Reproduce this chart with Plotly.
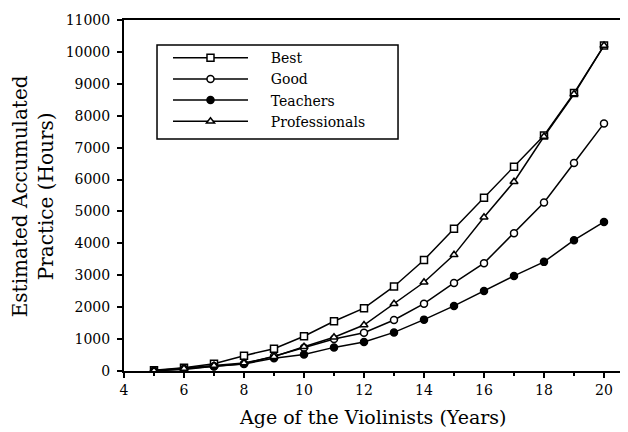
import plotly.graph_objects as go

ages = [5, 6, 7, 8, 9, 10, 11, 12, 13, 14, 15, 16, 17, 18, 19, 20]
best = [20, 100, 230, 480, 700, 1090, 1560, 1970, 2650, 3480, 4460, 5430, 6400, 7380, 8710, 10200]
good = [10, 50, 150, 230, 460, 730, 1000, 1200, 1600, 2110, 2760, 3380, 4320, 5280, 6520, 7760]
teachers = [0, 70, 140, 220, 400, 520, 740, 910, 1210, 1610, 2040, 2510, 2980, 3420, 4100, 4670]
professionals = [10, 80, 170, 250, 450, 760, 1060, 1440, 2110, 2780, 3640, 4820, 5930, 7350, 8680, 10200]

x_ticks = [4, 6, 8, 10, 12, 14, 16, 18, 20]
y_ticks = list(range(0, 11001, 1000))
y_ticktext = [str(v) for v in y_ticks]

series = [
    ("Best", best, "square", "white"),
    ("Good", good, "circle", "white"),
    ("Teachers", teachers, "circle", "black"),
    ("Professionals", professionals, "triangle-up", "white"),
]

NB = "\u00a0"
fig = go.Figure()
for name, vals, sym, fill in series:
    fig.add_trace(go.Scatter(
        x=ages, y=vals, name=NB * 4 + name, mode="lines+markers",
        line=dict(color="black", width=1.5),
        marker=dict(symbol=sym, size=7, color=fill, line=dict(color="black", width=1.5)),
    ))

font = "DejaVu Serif, serif"
fig.update_layout(
    width=620, height=424,
    margin=dict(l=116, r=0, t=12, b=61),
    paper_bgcolor="white", plot_bgcolor="white",
    font=dict(family=font, color="black", size=14),
    showlegend=True,
    legend=dict(
        x=0.0873, y=0.937, xanchor="left", yanchor="top",
        borderwidth=0, bgcolor="rgba(0,0,0,0)",
        font=dict(family=font, size=14, color="black"),
        itemwidth=75, tracegroupgap=0,
    ),
    shapes=[
        dict(type="rect", xref="paper", yref="paper",
             x0=0.0655, x1=0.5437, y0=0.661, y1=0.9288,
             line=dict(color="black", width=1.5), fillcolor="rgba(0,0,0,0)", layer="below"),
    ],
    xaxis=dict(
        range=[4, 20.8], tickvals=x_ticks, ticks="outside", ticklen=5,
        tickcolor="black", tickwidth=1.5,
        showline=True, linecolor="black", linewidth=2, mirror=True,
        showgrid=False, zeroline=False, automargin=False,
        tickfont=dict(size=14),
        minor=dict(dtick=1, ticks="outside", ticklen=3, tickcolor="black"),
    ),
    yaxis=dict(
        range=[0, 11000], tickvals=y_ticks, ticktext=y_ticktext, ticks="outside", ticklen=5,
        tickcolor="black", tickwidth=1.5, ticklabelstandoff=4,
        showline=True, linecolor="black", linewidth=2,
        showgrid=False, zeroline=False, automargin=False,
        tickfont=dict(size=14),
    ),
    annotations=[
        dict(text="Age of the Violinists (Years)", xref="paper", yref="paper",
             x=0.494, y=-0.131, xanchor="center", yanchor="middle",
             showarrow=False, font=dict(size=19)),
        dict(text="Estimated Accumulated<br>Practice (Hours)", xref="paper", yref="paper",
             x=-0.18, y=0.4986, xanchor="center", yanchor="middle", textangle=-90,
             showarrow=False, font=dict(size=20)),
    ],
)

fig.write_html("out.html")
